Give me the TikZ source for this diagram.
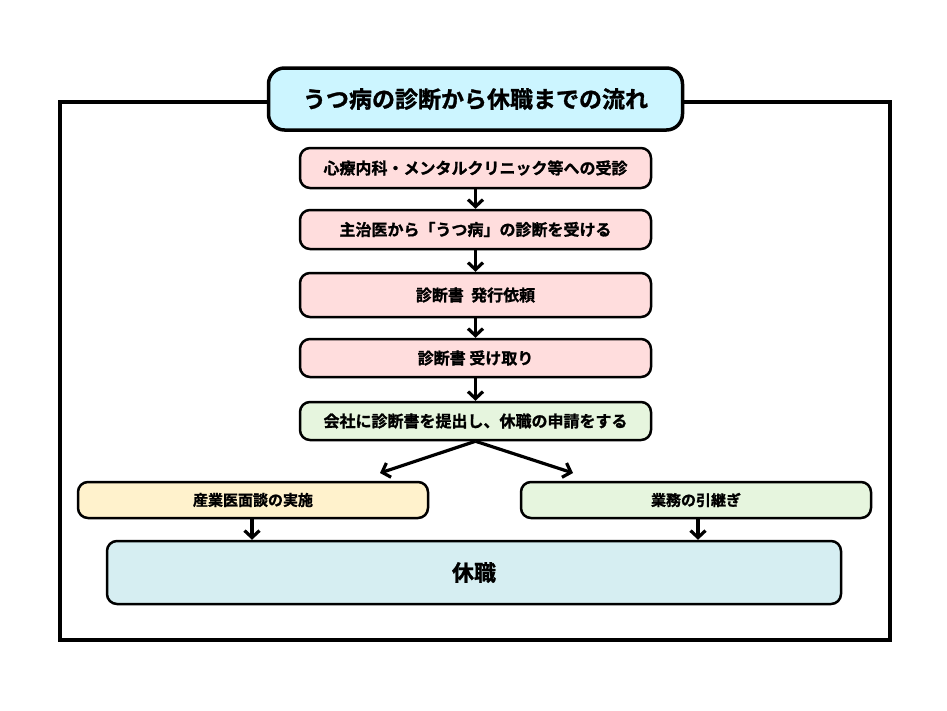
\documentclass[tikz,border=0pt]{standalone}
\usepackage{fontspec}
\newfontfamily\cjk{Noto Sans CJK JP}[BoldFont={Noto Sans CJK JP Bold},BoldFeatures={FakeBold=1.2}]
\usetikzlibrary{arrows.meta}
\definecolor{titlefill}{HTML}{CCF5FF}
\definecolor{pinkfill}{HTML}{FFDDDD}
\definecolor{greenfill}{HTML}{E6F5DE}
\definecolor{yellowfill}{HTML}{FFF2CC}
\definecolor{bluefill}{HTML}{D6EEF2}
\begin{document}
\begin{tikzpicture}[x=1pt,y=-1pt,
  box/.style={draw=black,line width=2.5pt,rounded corners=10pt,inner sep=0pt,
    font=\cjk\bfseries\fontsize{16}{19}\selectfont,text=black},
  arr/.style={line width=3.2pt,-{Straight Barb[length=7pt,width=15pt,line width=3.2pt]}}]
\useasboundingbox (0,0) rectangle (947,710);
\draw[line width=3.5pt] (60,102) rectangle (890,640);
\node[box,line width=3.5pt,rounded corners=16pt,fill=titlefill,minimum width=414pt,minimum height=62pt,
  font=\cjk\bfseries\fontsize{23}{26}\selectfont] (title) at (475.5,99) {うつ病の診断から休職までの流れ};
\node[box,fill=pinkfill,minimum width=351pt,minimum height=40pt] (b1) at (475.5,168) {心療内科・メンタルクリニック等への受診};
\node[box,fill=pinkfill,minimum width=351pt,minimum height=39pt] (b2) at (475.5,229.5) {主治医から「うつ病」の診断を受ける};
\node[box,fill=pinkfill,minimum width=351pt,minimum height=44pt] (b3) at (475.5,295) {診断書\ \ 発行依頼};
\node[box,fill=pinkfill,minimum width=351pt,minimum height=38pt] (b4) at (475.5,358) {診断書 受け取り};
\node[box,fill=greenfill,minimum width=351pt,minimum height=38pt] (b5) at (475.5,421) {会社に診断書を提出し、休職の申請をする};
\node[box,fill=yellowfill,minimum width=350pt,minimum height=36pt,font=\cjk\bfseries\fontsize{15}{18}\selectfont] (b6) at (253,500) {産業医面談の実施};
\node[box,fill=greenfill,minimum width=350pt,minimum height=36pt,font=\cjk\bfseries\fontsize{15}{18}\selectfont] (b7) at (696,500) {業務の引継ぎ};
\node[box,fill=bluefill,minimum width=734pt,minimum height=63pt,
  font=\cjk\bfseries\fontsize{22}{26}\selectfont] (b8) at (474,572.5) {休職};
\draw[arr] (b1.south) -- (b2.north);
\draw[arr] (b2.south) -- (b3.north);
\draw[arr] (b3.south) -- (b4.north);
\draw[arr] (b4.south) -- (b5.north);
\coordinate (la) at (380,473);
\coordinate (ra) at (573,473);
\draw[arr] (b5.south) -- (la);
\draw[arr] (b5.south) -- (ra);
\draw[arr] (b6.south -| 252,0) -- (b8.north -| 252,0);
\draw[arr] (b7.south -| 698,0) -- (b8.north -| 698,0);
\end{tikzpicture}
\end{document}
